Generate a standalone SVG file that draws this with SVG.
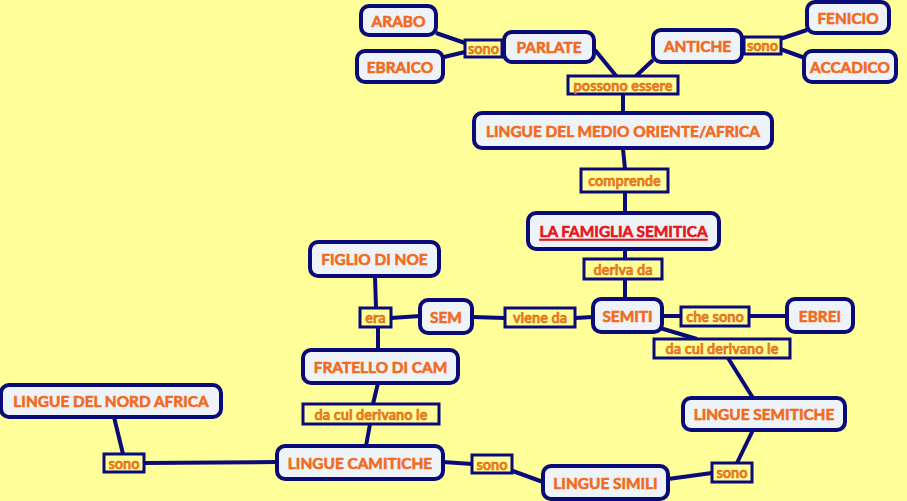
<svg xmlns="http://www.w3.org/2000/svg" width="907" height="501" viewBox="0 0 907 501">
<style>
.bg{fill:#FFFF99}
.n rect{fill:#EEF3F8;stroke:#0A0A78;stroke-width:4}
.l rect{fill:#FFFF99;stroke:#0A0A78;stroke-width:3}
.n text{font-family:Lato,"Liberation Sans",sans-serif;font-weight:bold;font-size:15.4px;fill:#F26B1D;stroke:#F26B1D;stroke-width:0.6;text-anchor:middle;dominant-baseline:central}
.l text{font-family:Lato,"Liberation Sans",sans-serif;font-weight:bold;font-size:14.5px;fill:#F7801E;text-anchor:middle;dominant-baseline:central;stroke:#D05A10;stroke-width:0.45}
#conn path{stroke:#0A0A78;stroke-width:4;fill:none}
</style>
<rect class="bg" x="0" y="0" width="907" height="501"/>
<g id="conn">
<path d="M436,33 L465,43"/>
<path d="M444,57 L465,52"/>
<path d="M502,48 L504,48"/>
<path d="M595,50 L617,77"/>
<path d="M635,77 L653,60"/>
<path d="M742,46 L744,46"/>
<path d="M780,39 L807,30"/>
<path d="M780,49 L805,58"/>
<path d="M623,94 L623,113"/>
<path d="M623,149 L625,169"/>
<path d="M625,192 L625,213"/>
<path d="M625,250 L625,259"/>
<path d="M625,279 L625,299"/>
<path d="M662,316 L681,316"/>
<path d="M749,316 L787,316"/>
<path d="M660,328 L697,339"/>
<path d="M728,358 L753,398"/>
<path d="M753,430 L737,463"/>
<path d="M712,473 L668,479"/>
<path d="M543,482 L510,470"/>
<path d="M443,462 L472,464"/>
<path d="M144,463 L277,462"/>
<path d="M123,454 L114,417"/>
<path d="M366,446 L370,424"/>
<path d="M373,404 L378,383"/>
<path d="M378,350 L378,327"/>
<path d="M376,308 L375,276"/>
<path d="M391,318 L420,316"/>
<path d="M472,317 L505,318"/>
<path d="M575,318 L593,317"/>
</g>
<g id="arabo" class="n"><rect x="361" y="6" width="75" height="29" rx="8"/><text x="398.5" y="20.5">ARABO</text></g>
<g id="ebraico" class="n"><rect x="357" y="51" width="86" height="31" rx="8"/><text x="400" y="66.5">EBRAICO</text></g>
<g id="parlate" class="n"><rect x="504" y="32" width="90" height="30" rx="8"/><text x="549" y="47">PARLATE</text></g>
<g id="antiche" class="n"><rect x="653" y="30" width="89" height="32" rx="8"/><text x="697.5" y="46">ANTICHE</text></g>
<g id="fenicio" class="n"><rect x="807" y="2" width="82" height="31" rx="8"/><text x="848" y="17.5">FENICIO</text></g>
<g id="accadico" class="n"><rect x="804" y="51" width="92" height="31" rx="8"/><text x="850" y="66.5">ACCADICO</text></g>
<g id="medio" class="n"><rect x="474" y="113" width="298" height="35" rx="8"/><text x="623" y="130.5">LINGUE DEL MEDIO ORIENTE/AFRICA</text></g>
<g id="famiglia" class="n"><rect x="528" y="213" width="191" height="36" rx="8"/><text x="623.5" y="231" style="fill:#E8151B;stroke:#E8151B;text-decoration:underline">LA FAMIGLIA SEMITICA</text></g>
<g id="figlio" class="n"><rect x="310" y="242" width="129" height="34" rx="8"/><text x="374.5" y="259">FIGLIO DI NOE</text></g>
<g id="sem" class="n"><rect x="420" y="300" width="52" height="33" rx="8"/><text x="446" y="316.5">SEM</text></g>
<g id="fratello" class="n"><rect x="303" y="350" width="155" height="33" rx="8"/><text x="380.5" y="366.5">FRATELLO DI CAM</text></g>
<g id="semiti" class="n"><rect x="593" y="299" width="69" height="33" rx="8"/><text x="627.5" y="315.5">SEMITI</text></g>
<g id="ebrei" class="n"><rect x="787" y="299" width="66" height="33" rx="8"/><text x="820" y="315.5">EBREI</text></g>
<g id="semitiche" class="n"><rect x="683" y="398" width="162" height="32" rx="8"/><text x="764" y="414">LINGUE SEMITICHE</text></g>
<g id="nordafrica" class="n"><rect x="1" y="385" width="220" height="32" rx="8"/><text x="111" y="401">LINGUE DEL NORD AFRICA</text></g>
<g id="camitiche" class="n"><rect x="277" y="446" width="166" height="33" rx="8"/><text x="360" y="462.5">LINGUE CAMITICHE</text></g>
<g id="simili" class="n"><rect x="543" y="466" width="125" height="33" rx="8"/><text x="605.5" y="482.5">LINGUE SIMILI</text></g>
<g id="l-sono1" class="l"><rect x="465" y="40" width="37" height="17"/><text x="483.5" y="48.5">sono</text></g>
<g id="l-possono" class="l"><rect x="568" y="76" width="110" height="18"/><text x="623" y="85">possono essere</text></g>
<g id="l-sono2" class="l"><rect x="744" y="37" width="37" height="17"/><text x="762.5" y="45.5">sono</text></g>
<g id="l-comprende" class="l"><rect x="581" y="169" width="87" height="23"/><text x="624.5" y="180.5">comprende</text></g>
<g id="l-deriva" class="l"><rect x="584" y="259" width="78" height="20"/><text x="623" y="269">deriva da</text></g>
<g id="l-era" class="l"><rect x="360" y="308" width="31" height="19"/><text x="375.5" y="317.5">era</text></g>
<g id="l-viene" class="l"><rect x="505" y="308" width="70" height="19"/><text x="540" y="317.5">viene da</text></g>
<g id="l-chesono" class="l"><rect x="681" y="307" width="68" height="19"/><text x="715" y="316.5">che sono</text></g>
<g id="l-dacui1" class="l"><rect x="654" y="339" width="136" height="19"/><text x="722" y="348.5">da cui derivano le</text></g>
<g id="l-dacui2" class="l"><rect x="303" y="404" width="136" height="20"/><text x="371" y="414">da cui derivano le</text></g>
<g id="l-sono3" class="l"><rect x="104" y="454" width="40" height="18"/><text x="124" y="463">sono</text></g>
<g id="l-sono4" class="l"><rect x="472" y="455" width="40" height="18"/><text x="492" y="464">sono</text></g>
<g id="l-sono5" class="l"><rect x="712" y="463" width="40" height="19"/><text x="732" y="472.5">sono</text></g>
</svg>
